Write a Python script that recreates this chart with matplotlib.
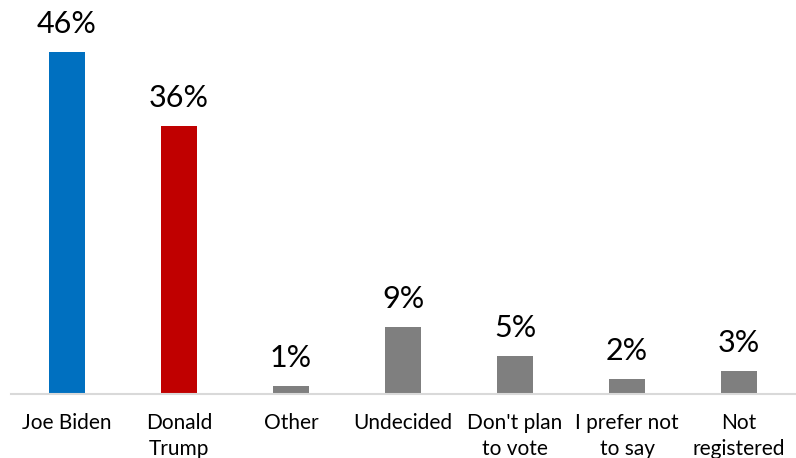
import matplotlib

matplotlib.use("Agg")
import matplotlib.pyplot as plt
import numpy as np

categories = ["Joe Biden", "Donald\nTrump", "Other", "Undecided",
              "Don't plan\nto vote", "I prefer not\nto say", "Not\nregistered"]
shares = [46, 36, 1, 9, 5, 2, 3]
bar_colors = ["#0070C0", "#C00000", "#7F7F7F", "#7F7F7F",
              "#7F7F7F", "#7F7F7F", "#7F7F7F"]

plt.rcParams["font.family"] = ["Lato", "DejaVu Sans"]

fig = plt.figure(figsize=(7.96, 4.58), dpi=100)
ax = fig.add_axes([11 / 796, 1 - 393.5 / 458, 784 / 796, 393.5 / 458])

x = np.arange(len(categories))
bars = ax.bar(x, shares, width=0.32, color=bar_colors, zorder=2)

for b, v in zip(bars, shares):
    ax.annotate(f"{v}%", (b.get_x() + b.get_width() / 2, v),
                xytext=(0, 10), textcoords="offset points",
                ha="center", va="bottom", fontsize=22, color="#000000")

ax.set_xlim(-0.5, len(categories) - 0.5)
ax.set_ylim(0, 53)
ax.set_xticks(x)
ax.set_xticklabels(categories, fontsize=15, linespacing=1.35, color="#000000")
ax.tick_params(axis="x", length=0, pad=14)
ax.set_yticks([])

for side in ["top", "right", "left"]:
    ax.spines[side].set_visible(False)
ax.spines["bottom"].set_color("#D9D9D9")
ax.spines["bottom"].set_linewidth(1.5)

fig.savefig("out.png", dpi=100)
